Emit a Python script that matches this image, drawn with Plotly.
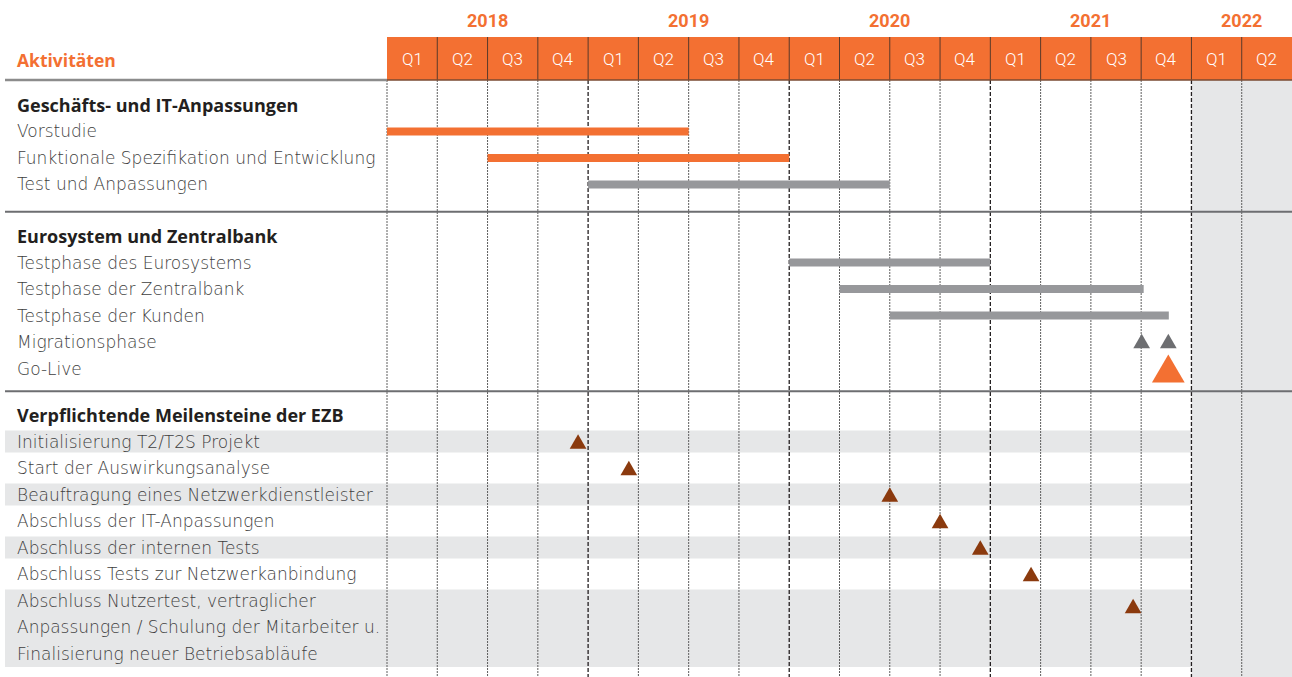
import plotly.graph_objects as go

# ---------------- data ----------------
years = ["2018", "2019", "2020", "2021", "2022"]
quarters_per_year = [4, 4, 4, 4, 2]
quarter_names = ["Q1", "Q2", "Q3", "Q4"]

header_title = "Aktivitäten"
section_titles = ["Geschäfts- und IT-Anpassungen",
                  "Eurosystem und Zentralbank",
                  "Verpflichtende Meilensteine der EZB"]

# time unit: quarters since start of 2018-Q1
it_tasks = ["Vorstudie", "Funktionale Spezifikation und Entwicklung", "Test und Anpassungen"]
it_start = [0.0, 2.0, 4.0]
it_end = [6.0, 8.0, 10.0]
it_kind = ["orange", "orange", "grey"]

es_tasks = ["Testphase des Eurosystems", "Testphase der Zentralbank",
            "Testphase der Kunden", "Migrationsphase", "Go-Live"]
es_bar_start = [8.0, 9.0, 10.0]
es_bar_end = [12.0, 15.05, 15.55]
migration_points = [15.01, 15.54]
golive_points = [15.54]

ms_tasks = [["Initialisierung T2/T2S Projekt"],
            ["Start der Auswirkungsanalyse"],
            ["Beauftragung eines Netzwerkdienstleister"],
            ["Abschluss der IT-Anpassungen"],
            ["Abschluss der internen Tests"],
            ["Abschluss Tests zur Netzwerkanbindung"],
            ["Abschluss Nutzertest, vertraglicher",
             "Anpassungen / Schulung der Mitarbeiter u.",
             "Finalisierung neuer Betriebsabläufe"]]
ms_dates = [3.80, 4.81, 10.0, 11.0, 11.80, 12.81, 14.84]

# ---------------- style / layout constants ----------------
W, H = 1292, 677
GX0 = 387.0
NQ = sum(quarters_per_year)
QW = (W - GX0) / NQ
ORANGE = "#F37032"
GREY_BAR = "#97989B"
DARK_GREY = "#6D6E71"
BROWN = "#8B3A0E"
STRIPE = "#E6E7E8"
TXT = "#3E3E40"
HEAD_TXT = "#231F20"
LFONT = "DejaVu Sans"
BFONT = "Open Sans"
HFONT = "Roboto"

HEADER_TOP, HEADER_BOT = 37.0, 80.0
YEAR_Y, Q_Y = 20.0, 59.0
SEC_Y = [104.5, 236.0, 415.0]
PITCH = 26.5
BAR_H = 8.0
LABEL_PX = 15.0
LEFT_PX = 5.0
LSIZE = 17
BSIZE = 18


def px2q(px):
    return (px - GX0) / QW


fig = go.Figure()
shapes = []
ann = []

# background: 2022 shaded columns
q2022 = sum(quarters_per_year[:4])
shapes.append(dict(type="rect", xref="x", yref="y", x0=q2022, x1=NQ, y0=HEADER_BOT, y1=H,
                   fillcolor=STRIPE, line=dict(width=0), layer="below"))

# milestone stripes
ms_rows = []
r = 1
for lines in ms_tasks:
    ms_rows.append([SEC_Y[2] + (r + k) * PITCH for k in range(len(lines))])
    r += len(lines)
for i, rows in enumerate(ms_rows):
    if i % 2 == 0:
        top = rows[0] - 11
        bot = rows[-1] + (11 if len(rows) == 1 else 13.5)
        shapes.append(dict(type="rect", xref="x", yref="y", x0=px2q(LEFT_PX), x1=q2022,
                           y0=top, y1=bot, fillcolor=STRIPE, line=dict(width=0), layer="below"))

# vertical grid lines
for q in range(NQ):
    is_year = q in (4, 8, 12, 16)
    shapes.append(dict(type="line", xref="x", yref="y", x0=q, x1=q, y0=HEADER_BOT, y1=H,
                       line=dict(color="#231F20" if is_year else "#5E5E5E",
                                 width=1.3 if is_year else 1,
                                 dash="4px,2px" if is_year else "2px,1px"),
                       layer="below"))

# header
shapes.append(dict(type="rect", xref="x", yref="y", x0=0, x1=NQ, y0=HEADER_TOP, y1=HEADER_BOT,
                   fillcolor=ORANGE, line=dict(width=0), layer="below"))
for q in range(1, NQ):
    shapes.append(dict(type="line", xref="x", yref="y", x0=q, x1=q, y0=HEADER_TOP, y1=HEADER_BOT,
                       line=dict(color="#5A3A2A", width=1), layer="below"))
shapes.append(dict(type="line", xref="x", yref="y", x0=0, x1=NQ, y0=HEADER_BOT, y1=HEADER_BOT,
                   line=dict(color="#7A4A32", width=1.5), layer="below"))
shapes.append(dict(type="line", xref="x", yref="y", x0=px2q(LEFT_PX), x1=0, y0=HEADER_BOT,
                   y1=HEADER_BOT, line=dict(color="#8C8C8C", width=2.5), layer="below"))

# section separators
for y in (211.7, 391.3):
    shapes.append(dict(type="line", xref="x", yref="y", x0=px2q(LEFT_PX), x1=NQ, y0=y, y1=y,
                       line=dict(color="#6D6E71", width=2), layer="below"))

# header texts
ann.append(dict(x=px2q(LABEL_PX), y=Q_Y + 1, xref="x", yref="y", text=header_title,
                showarrow=False, xanchor="left", yanchor="middle",
                font=dict(family=BFONT, size=17.5, color=ORANGE, weight="bold")))
q = 0
for yr, n in zip(years, quarters_per_year):
    ann.append(dict(x=q + n / 2, y=YEAR_Y, xref="x", yref="y", text=yr, showarrow=False,
                    xanchor="center", yanchor="middle",
                    font=dict(family=HFONT, size=18, color=ORANGE, weight="bold")))
    for k in range(n):
        ann.append(dict(x=q + k + 0.5, y=Q_Y, xref="x", yref="y", text=quarter_names[k],
                        showarrow=False, xanchor="center", yanchor="middle",
                        font=dict(family=HFONT, size=17, color="white", weight=300)))
    q += n


def label(text, y, bold=False):
    if bold:
        f = dict(family=BFONT, size=BSIZE, color=HEAD_TXT, weight="bold")
    else:
        f = dict(family=LFONT, size=LSIZE, color=TXT, weight=300)
    ann.append(dict(x=px2q(LABEL_PX), y=y, xref="x", yref="y", text=text, showarrow=False,
                    xanchor="left", yanchor="middle", font=f))


def bar(start, end, y, color):
    fig.add_trace(go.Bar(x=[end - start], base=[start], y=[y], orientation="h", width=BAR_H,
                         marker=dict(color=color, line=dict(width=0)), hoverinfo="skip",
                         showlegend=False))


def tri(qc, yc, w, h, color):
    dx = w / 2 / QW
    fig.add_trace(go.Scatter(x=[qc - dx, qc + dx, qc, qc - dx],
                             y=[yc + h / 2, yc + h / 2, yc - h / 2, yc + h / 2],
                             mode="lines", fill="toself", fillcolor=color,
                             line=dict(width=0, color=color), hoverinfo="skip",
                             showlegend=False))


# section 1
label(section_titles[0], SEC_Y[0], bold=True)
for i, t in enumerate(it_tasks):
    y = SEC_Y[0] + (i + 1) * PITCH
    label(t, y)
    bar(it_start[i], it_end[i], y + 0.5, ORANGE if it_kind[i] == "orange" else GREY_BAR)

# section 2
label(section_titles[1], SEC_Y[1], bold=True)
for i, t in enumerate(es_tasks):
    y = SEC_Y[1] + (i + 1) * PITCH
    label(t, y)
    if i < len(es_bar_start):
        bar(es_bar_start[i], es_bar_end[i], y, GREY_BAR)
y_mig = SEC_Y[1] + 4 * PITCH
for qp in migration_points:
    tri(qp, y_mig - 1, 16.7, 14.7, DARK_GREY)
y_go = SEC_Y[1] + 5 * PITCH
for qp in golive_points:
    tri(qp, y_go, 32.7, 28, ORANGE)

# section 3
label(section_titles[2], SEC_Y[2], bold=True)
for lines, rows, d in zip(ms_tasks, ms_rows, ms_dates):
    for ln, y in zip(lines, rows):
        label(ln, y)
    yc = rows[0] if len(rows) == 1 else rows[0] + 5.5
    tri(d, yc, 16.7, 14.7, BROWN)

fig.update_layout(
    width=W, height=H, margin=dict(l=0, r=0, t=0, b=0),
    paper_bgcolor="white", plot_bgcolor="white",
    barmode="overlay", showlegend=False, hovermode=False,
    xaxis=dict(range=[px2q(0), px2q(W)], visible=False, fixedrange=True),
    yaxis=dict(range=[H, 0], visible=False, fixedrange=True),
    shapes=shapes, annotations=ann,
)
fig.write_html(
    "out.html",
    config={"displayModeBar": False, "staticPlot": True},
    post_script="document.documentElement.style.margin='0';"
                "document.body.style.margin='0';"
                "document.body.style.overflow='hidden';",
)
